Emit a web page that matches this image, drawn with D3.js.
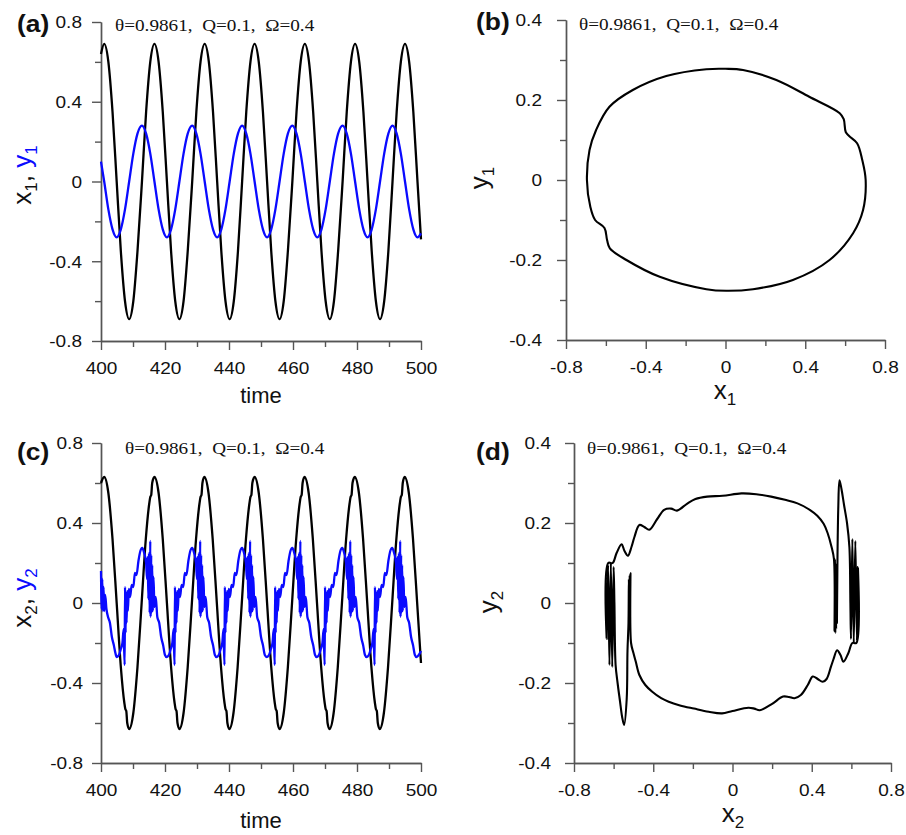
<!DOCTYPE html>
<html>
<head>
<meta charset="utf-8">
<script src="https://cdnjs.cloudflare.com/ajax/libs/d3/7.8.5/d3.min.js"></script>
<style>
  body { margin: 0; background: #fff; }
  svg { display: block; }
  .tick text { font-family: 'Liberation Sans', Arial, sans-serif; font-size: 17px; fill: #111; }
  .domain, .tick line { stroke: #555; stroke-width: 1.4px; }
  .title { font-family: 'Liberation Sans', Arial, sans-serif; fill: #111; }
  .note { font-family: 'Liberation Serif', 'Times New Roman', serif; font-size: 16px; fill: #111; white-space: pre; }
  .letter { font-family: 'Liberation Sans', Arial, sans-serif; font-size: 24px; font-weight: bold; fill: #111; }
</style>
</head>
<body>
<svg id="chart" width="906" height="835"></svg>
<script>
(function() {
  // tick values
  var timeTicks = [400, 420, 440, 460, 480, 500];
  var timeMinor = [410, 430, 450, 470, 490];
  var ampTicks = [-0.8, -0.4, 0, 0.4, 0.8];
  var ampMinor = [-0.6, -0.2, 0.2, 0.6];
  var phaseYTicks = [-0.4, -0.2, 0, 0.2, 0.4];
  var phaseYMinor = [-0.3, -0.1, 0.1, 0.3];

  var noteText = '\u03b8=0.9861,\u00a0 Q=0.1,\u00a0 \u03a9=0.4';

  // (a) x1 and y1 against time
  var timeA = [400.0, 401.0, 402.3, 403.6, 404.9, 406.2, 407.5, 408.8, 410.1, 411.4, 412.8, 414.1, 415.4,
    416.7, 418.0, 419.3, 420.6, 421.9, 423.2, 424.5, 425.8, 427.1, 428.5, 429.8, 431.1,
    432.4, 433.7, 435.0, 436.3, 437.6, 438.9, 440.2, 441.5, 442.8, 444.1, 445.4, 446.7,
    448.0, 449.3, 450.6, 451.9, 453.2, 454.5, 455.8, 457.1, 458.4, 459.8, 461.1, 462.4,
    463.7, 465.0, 466.3, 467.6, 468.9, 470.2, 471.5, 472.8, 474.1, 475.5, 476.8, 478.1,
    479.4, 480.7, 482.0, 483.3, 484.6, 485.9, 487.2, 488.5, 489.8, 491.1, 492.4, 493.7,
    495.0, 496.3, 497.6, 498.9, 500.0];
  var x1Values = [0.64, 0.69, 0.60, 0.35, 0, -0.35, -0.60, -0.69, -0.60, -0.35, 0, 0.35, 0.60,
    0.69, 0.60, 0.35, 0, -0.35, -0.60, -0.69, -0.60, -0.35, 0, 0.35, 0.60,
    0.69, 0.60, 0.35, 0, -0.35, -0.60, -0.69, -0.60, -0.35, 0, 0.35, 0.60,
    0.69, 0.60, 0.35, 0, -0.35, -0.60, -0.69, -0.60, -0.35, 0, 0.35, 0.60,
    0.69, 0.60, 0.35, 0, -0.35, -0.60, -0.69, -0.60, -0.35, 0, 0.35, 0.60,
    0.69, 0.60, 0.35, 0, -0.35, -0.60, -0.69, -0.60, -0.35, 0, 0.35, 0.60,
    0.69, 0.60, 0.35, 0, -0.29];
  var y1Values = [0.10, 0, -0.14, -0.24, -0.28, -0.24, -0.14, 0, 0.14, 0.24, 0.28, 0.24, 0.14,
    0, -0.14, -0.24, -0.28, -0.24, -0.14, 0, 0.14, 0.24, 0.28, 0.24, 0.14,
    0, -0.14, -0.24, -0.28, -0.24, -0.14, 0, 0.14, 0.24, 0.28, 0.24, 0.14,
    0, -0.14, -0.24, -0.28, -0.24, -0.14, 0, 0.14, 0.24, 0.28, 0.24, 0.14,
    0, -0.14, -0.24, -0.28, -0.24, -0.14, 0, 0.14, 0.24, 0.28, 0.24, 0.14,
    0, -0.14, -0.24, -0.28, -0.24, -0.14, 0, 0.14, 0.24, 0.28, 0.24, 0.14,
    0, -0.14, -0.24, -0.28, -0.26];

  // (b) x1, y1 orbit
  var orbit1 = [[0.0, 0.278], [0.088, 0.275], [0.255, 0.25], [0.42, 0.208], [0.573, 0.167], [0.593, 0.152],
    [0.603, 0.12], [0.62, 0.11], [0.66, 0.092], [0.686, 0.05], [0.703, 0], [0.69, -0.075], [0.64, -0.133],
    [0.522, -0.2], [0.338, -0.25], [0.138, -0.273], [0.004, -0.277], [-0.096, -0.273], [-0.33, -0.242],
    [-0.497, -0.2], [-0.58, -0.171], [-0.594, -0.15], [-0.607, -0.12], [-0.654, -0.1], [-0.678, -0.067],
    [-0.695, 0], [-0.682, 0.075], [-0.649, 0.125], [-0.582, 0.183], [-0.465, 0.225], [-0.297, 0.26], [-0.096, 0.277]];

  // (c) x2 against time
  var x2Points = [[400.0, 0.60],
    [401.0, 0.63], [402.3, 0.55], [403.6, 0.32], [404.9, 0], [406.2, -0.32], [407.3, -0.50], [407.6, -0.53], [407.9, -0.54], [408.2, -0.60], [408.8, -0.63], [410.1, -0.55], [411.4, -0.32], [412.7, 0], [414.0, 0.32], [415.1, 0.50], [415.4, 0.53], [415.7, 0.54], [416.0, 0.60],
    [416.7, 0.63], [418.0, 0.55], [419.3, 0.32], [420.6, 0], [421.9, -0.32], [423.0, -0.50], [423.3, -0.53], [423.6, -0.54], [423.9, -0.60], [424.5, -0.63], [425.8, -0.55], [427.1, -0.32], [428.4, 0], [429.7, 0.32], [430.8, 0.50], [431.1, 0.53], [431.4, 0.54], [431.7, 0.60],
    [432.3, 0.63], [433.6, 0.55], [434.9, 0.32], [436.2, 0], [437.5, -0.32], [438.6, -0.50], [438.9, -0.53], [439.2, -0.54], [439.5, -0.60], [440.1, -0.63], [441.4, -0.55], [442.7, -0.32], [444.0, 0], [445.3, 0.32], [446.4, 0.50], [446.7, 0.53], [447.0, 0.54], [447.3, 0.60],
    [448.0, 0.63], [449.3, 0.55], [450.6, 0.32], [451.9, 0], [453.2, -0.32], [454.3, -0.50], [454.6, -0.53], [454.9, -0.54], [455.2, -0.60], [455.8, -0.63], [457.1, -0.55], [458.4, -0.32], [459.7, 0], [461.0, 0.32], [462.1, 0.50], [462.4, 0.53], [462.7, 0.54], [463.0, 0.60],
    [463.6, 0.63], [464.9, 0.55], [466.2, 0.32], [467.5, 0], [468.8, -0.32], [469.9, -0.50], [470.2, -0.53], [470.5, -0.54], [470.8, -0.60], [471.4, -0.63], [472.7, -0.55], [474.0, -0.32], [475.3, 0], [476.6, 0.32], [477.7, 0.50], [478.0, 0.53], [478.3, 0.54], [478.6, 0.60],
    [479.3, 0.63], [480.6, 0.55], [481.9, 0.32], [483.2, 0], [484.5, -0.32], [485.6, -0.50], [485.9, -0.53], [486.2, -0.54], [486.5, -0.60], [487.1, -0.63], [488.4, -0.55], [489.7, -0.32], [491.0, 0], [492.3, 0.32], [493.4, 0.50], [493.7, 0.53], [494.0, 0.54], [494.3, 0.60],
    [494.9, 0.63], [496.2, 0.55], [497.5, 0.32], [498.8, 0], [500.0, -0.30]];

  // (c) y2 against time, one line per cycle (trough to trough)
  var y2Points = [[400.0, 0.16], [400.2, -0.03], [400.4, 0.12], [400.6, -0.04], [400.8, 0.08], [401.0, -0.04], [401.3, 0.04], [401.7, -0.03], [402.2, -0.07], [402.8, -0.10], [403.4, -0.17], [404.0, -0.21], [404.5, -0.25],
    [404.9, -0.27], [405.6, -0.26], [406.2, -0.23], [406.7, -0.20], [407.1, -0.13], [407.2, -0.21], [407.4, -0.31], [407.5, 0.08], [407.7, -0.15], [407.8, 0.05], [408.0, -0.10], [408.2, 0.06], [408.4, -0.04], [408.7, 0.07], [409.1, 0.03], [409.6, 0.09], [410.1, 0.08], [410.6, 0.15], [411.1, 0.14], [411.7, 0.21], [412.3, 0.26], [412.9, 0.275], [413.5, 0.25], [414.1, 0.20], [414.4, 0.12], [414.6, 0.23], [414.8, 0.02], [415.0, 0.25], [415.2, -0.05], [415.4, 0.31], [415.5, -0.07], [415.7, 0.24], [415.8, -0.05], [416.0, 0.19], [416.2, -0.04], [416.4, 0.13], [416.7, -0.02], [417.1, 0.03], [417.6, -0.07], [418.2, -0.10], [418.8, -0.17], [419.4, -0.21], [420.0, -0.26],
    [420.5, -0.27], [421.2, -0.26], [421.8, -0.23], [422.3, -0.20], [422.7, -0.13], [422.8, -0.21], [423.0, -0.31], [423.1, 0.08], [423.3, -0.15], [423.4, 0.05], [423.6, -0.10], [423.8, 0.06], [424.0, -0.04], [424.3, 0.07], [424.7, 0.03], [425.2, 0.09], [425.7, 0.08], [426.2, 0.15], [426.7, 0.14], [427.3, 0.21], [427.9, 0.26], [428.5, 0.275], [429.1, 0.25], [429.7, 0.20], [430.0, 0.12], [430.2, 0.23], [430.4, 0.02], [430.6, 0.25], [430.8, -0.05], [431.0, 0.31], [431.1, -0.07], [431.3, 0.24], [431.4, -0.05], [431.6, 0.19], [431.8, -0.04], [432.0, 0.13], [432.3, -0.02], [432.7, 0.03], [433.2, -0.07], [433.8, -0.10], [434.4, -0.17], [435.0, -0.21], [435.6, -0.26],
    [436.1, -0.27], [436.8, -0.26], [437.4, -0.23], [437.9, -0.20], [438.3, -0.13], [438.4, -0.21], [438.6, -0.31], [438.7, 0.08], [438.9, -0.15], [439.0, 0.05], [439.2, -0.10], [439.4, 0.06], [439.6, -0.04], [439.9, 0.07], [440.3, 0.03], [440.8, 0.09], [441.3, 0.08], [441.8, 0.15], [442.3, 0.14], [442.9, 0.21], [443.5, 0.26], [444.1, 0.275], [444.7, 0.25], [445.3, 0.20], [445.6, 0.12], [445.8, 0.23], [446.0, 0.02], [446.2, 0.25], [446.4, -0.05], [446.6, 0.31], [446.7, -0.07], [446.9, 0.24], [447.0, -0.05], [447.2, 0.19], [447.4, -0.04], [447.6, 0.13], [447.9, -0.02], [448.3, 0.03], [448.8, -0.07], [449.4, -0.10], [450.0, -0.17], [450.6, -0.21], [451.2, -0.26],
    [451.8, -0.27], [452.5, -0.26], [453.1, -0.23], [453.6, -0.20], [454.0, -0.13], [454.1, -0.21], [454.3, -0.31], [454.4, 0.08], [454.6, -0.15], [454.7, 0.05], [454.9, -0.10], [455.1, 0.06], [455.3, -0.04], [455.6, 0.07], [456.0, 0.03], [456.5, 0.09], [457.0, 0.08], [457.5, 0.15], [458.0, 0.14], [458.6, 0.21], [459.2, 0.26], [459.8, 0.275], [460.4, 0.25], [461.0, 0.20], [461.3, 0.12], [461.5, 0.23], [461.7, 0.02], [461.9, 0.25], [462.1, -0.05], [462.3, 0.31], [462.4, -0.07], [462.6, 0.24], [462.7, -0.05], [462.9, 0.19], [463.1, -0.04], [463.3, 0.13], [463.6, -0.02], [464.0, 0.03], [464.5, -0.07], [465.1, -0.10], [465.7, -0.17], [466.3, -0.21], [466.9, -0.26],
    [467.4, -0.27], [468.1, -0.26], [468.7, -0.23], [469.2, -0.20], [469.6, -0.13], [469.7, -0.21], [469.9, -0.31], [470.0, 0.08], [470.2, -0.15], [470.3, 0.05], [470.5, -0.10], [470.7, 0.06], [470.9, -0.04], [471.2, 0.07], [471.6, 0.03], [472.1, 0.09], [472.6, 0.08], [473.1, 0.15], [473.6, 0.14], [474.2, 0.21], [474.8, 0.26], [475.4, 0.275], [476.0, 0.25], [476.6, 0.20], [476.9, 0.12], [477.1, 0.23], [477.3, 0.02], [477.5, 0.25], [477.7, -0.05], [477.9, 0.31], [478.0, -0.07], [478.2, 0.24], [478.3, -0.05], [478.5, 0.19], [478.7, -0.04], [478.9, 0.13], [479.2, -0.02], [479.6, 0.03], [480.1, -0.07], [480.7, -0.10], [481.3, -0.17], [481.9, -0.21], [482.5, -0.26],
    [483.0, -0.27], [483.7, -0.26], [484.3, -0.23], [484.8, -0.20], [485.2, -0.13], [485.3, -0.21], [485.5, -0.31], [485.6, 0.08], [485.8, -0.15], [485.9, 0.05], [486.1, -0.10], [486.3, 0.06], [486.5, -0.04], [486.8, 0.07], [487.2, 0.03], [487.7, 0.09], [488.2, 0.08], [488.7, 0.15], [489.2, 0.14], [489.8, 0.21], [490.4, 0.26], [491.0, 0.275], [491.6, 0.25], [492.2, 0.20], [492.5, 0.12], [492.7, 0.23], [492.9, 0.02], [493.1, 0.25], [493.3, -0.05], [493.5, 0.31], [493.6, -0.07], [493.8, 0.24], [493.9, -0.05], [494.1, 0.19], [494.3, -0.04], [494.5, 0.13], [494.8, -0.02], [495.2, 0.03], [495.7, -0.07], [496.3, -0.10], [496.9, -0.17], [497.5, -0.21], [498.1, -0.26],
    [498.6, -0.27], [499.3, -0.26], [500.0, -0.24]];

  // (d) x2, y2 orbit, in time order
  var orbit2 = [[-0.605, 0.10], [-0.585, 0.125], [-0.56, 0.147], [-0.545, 0.13], [-0.528, 0.118], [-0.51, 0.14], [-0.495, 0.165],
    [-0.47, 0.195], [-0.445, 0.19], [-0.42, 0.183], [-0.38, 0.21], [-0.345, 0.233], [-0.31, 0.236], [-0.28, 0.231], [-0.23, 0.248],
    [-0.187, 0.26], [-0.128, 0.266], [-0.05, 0.268], [0.045, 0.274], [0.12, 0.272], [0.195, 0.266], [0.265, 0.258], [0.328, 0.249],
    [0.39, 0.233], [0.428, 0.218], [0.46, 0.198], [0.48, 0.175], [0.50, 0.14], [0.512, 0.11],
    [0.515, -0.07], [0.517, 0.11], [0.519, -0.075], [0.521, 0.10], [0.523, -0.065], [0.525, 0.09], [0.527, -0.05],
    [0.53, 0.12], [0.534, 0.24], [0.54, 0.307], [0.55, 0.285], [0.563, 0.245], [0.578, 0.20], [0.59, 0.14], [0.595, 0.0], [0.598, -0.09],
    [0.605, 0.16], [0.612, -0.10], [0.62, 0.155], [0.628, -0.095], [0.633, 0.09], [0.625, -0.10], [0.605, -0.10],
    [0.585, -0.125], [0.56, -0.147], [0.545, -0.13], [0.528, -0.118], [0.51, -0.14], [0.497, -0.159], [0.475, -0.19], [0.455, -0.197],
    [0.43, -0.19], [0.405, -0.184], [0.38, -0.205], [0.345, -0.23], [0.313, -0.238], [0.285, -0.235], [0.255, -0.234], [0.2, -0.252],
    [0.138, -0.268], [0.11, -0.264], [0.08, -0.262], [0.0, -0.27], [-0.053, -0.276], [-0.12, -0.272], [-0.195, -0.264], [-0.265, -0.256],
    [-0.322, -0.247], [-0.36, -0.238], [-0.405, -0.222], [-0.44, -0.205], [-0.47, -0.18], [-0.488, -0.147], [-0.50, -0.125], [-0.512, -0.10],
    [-0.515, 0.075], [-0.517, -0.06], [-0.519, 0.07], [-0.521, -0.05], [-0.523, 0.06], [-0.525, -0.05],
    [-0.53, -0.12], [-0.534, -0.24], [-0.547, -0.305], [-0.557, -0.285], [-0.568, -0.245], [-0.58, -0.20], [-0.59, -0.155], [-0.596, 0.0], [-0.60, 0.09],
    [-0.607, -0.16], [-0.614, 0.10], [-0.621, -0.155], [-0.628, 0.095], [-0.635, -0.09], [-0.627, 0.10]];

  var BLUE = '#0a0aff';
  var svg = d3.select('#chart');

  var panels = [
    {letter: '(a)', left: 101, right: 421, top: 22, bottom: 341, xDomain: [400, 500], yDomain: [-0.8, 0.8],
      xTicks: timeTicks, xMinor: timeMinor, yTicks: ampTicks, yMinor: ampMinor, gap: 19,
      letterPos: [17, 32], notePos: [115, 31]},
    {letter: '(b)', left: 566, right: 885, top: 20, bottom: 340, xDomain: [-0.8, 0.8], yDomain: [-0.4, 0.4],
      xTicks: ampTicks, xMinor: ampMinor, yTicks: phaseYTicks, yMinor: phaseYMinor, gap: 24,
      letterPos: [476, 30], notePos: [579, 30]},
    {letter: '(c)', left: 101, right: 421, top: 443, bottom: 763, xDomain: [400, 500], yDomain: [-0.8, 0.8],
      xTicks: timeTicks, xMinor: timeMinor, yTicks: ampTicks, yMinor: ampMinor, gap: 18,
      letterPos: [17, 460], notePos: [125, 454]},
    {letter: '(d)', left: 574, right: 891, top: 443, bottom: 763, xDomain: [-0.8, 0.8], yDomain: [-0.4, 0.4],
      xTicks: ampTicks, xMinor: ampMinor, yTicks: phaseYTicks, yMinor: phaseYMinor, gap: 23,
      letterPos: [476, 460], notePos: [587, 454]}
  ];

  function fmt(d) {
    return d === 0 ? '0' : String(d);
  }

  function drawAxes(p) {
    var g = svg.append('g');
    p.x = d3.scaleLinear().domain(p.xDomain).range([p.left, p.right]);
    p.y = d3.scaleLinear().domain(p.yDomain).range([p.bottom, p.top]);

    g.append('g').attr('transform', 'translate(0,' + p.bottom + ')')
      .call(d3.axisBottom(p.x).tickValues(p.xMinor).tickSize(6).tickSizeOuter(0).tickFormat(''));
    var gx = g.append('g').attr('transform', 'translate(0,' + p.bottom + ')')
      .call(d3.axisBottom(p.x).tickValues(p.xTicks).tickSize(9).tickSizeOuter(0).tickFormat(fmt));
    gx.selectAll('.tick text').attr('y', null).attr('dy', null)
      .attr('transform', 'translate(0,33) scale(1.12,1)');

    g.append('g').attr('transform', 'translate(' + p.left + ',0)')
      .call(d3.axisLeft(p.y).tickValues(p.yMinor).tickSize(6).tickSizeOuter(0).tickFormat(''));
    var gy = g.append('g').attr('transform', 'translate(' + p.left + ',0)')
      .call(d3.axisLeft(p.y).tickValues(p.yTicks).tickSize(9).tickSizeOuter(0).tickFormat(fmt));
    gy.selectAll('.tick text').attr('x', null).attr('dy', '0.35em')
      .attr('transform', 'translate(' + (-p.gap) + ',0) scale(1.12,1)');

    svg.append('text').attr('class', 'letter')
      .attr('transform', 'translate(' + p.letterPos[0] + ',' + p.letterPos[1] + ') scale(1.1,1)')
      .text(p.letter);
    svg.append('text').attr('class', 'note')
      .attr('transform', 'translate(' + p.notePos[0] + ',' + p.notePos[1] + ') scale(1.2,1)')
      .text(noteText);
  }

  function drawSeries(p, points, color, curve, width) {
    var line = d3.line()
      .x(function(d) { return p.x(d[0]); })
      .y(function(d) { return p.y(d[1]); })
      .curve(curve);
    svg.append('path').datum(points)
      .attr('d', line)
      .attr('fill', 'none')
      .attr('stroke', color)
      .attr('stroke-width', width)
      .attr('stroke-linejoin', 'round');
  }

  function subTitle(tr, parts) {
    var t = svg.append('text').attr('class', 'title')
      .attr('transform', tr)
      .attr('text-anchor', 'middle');
    parts.forEach(function(part) {
      t.append('tspan')
        .attr('font-size', part.sub ? 17 : 26)
        .attr('dy', part.dy || 0)
        .attr('fill', part.color || '#111')
        .text(part.text);
    });
  }

  panels.forEach(drawAxes);

  var pa = panels[0], pb = panels[1], pc = panels[2], pd = panels[3];

  drawSeries(pa, d3.zip(timeA, x1Values), '#000', d3.curveMonotoneX, 2.3);
  drawSeries(pa, d3.zip(timeA, y1Values), BLUE, d3.curveMonotoneX, 2.3);
  drawSeries(pb, orbit1, '#000', d3.curveCatmullRomClosed.alpha(0.5), 2.1);
  drawSeries(pc, x2Points, '#000', d3.curveMonotoneX, 2.3);
  drawSeries(pc, y2Points, BLUE, d3.curveMonotoneX, 2.3);
  drawSeries(pd, orbit2, '#000', d3.curveCatmullRomClosed.alpha(0.5), 2.1);

  // axis titles
  svg.append('text').attr('class', 'title').attr('x', 261).attr('y', 403)
    .attr('text-anchor', 'middle').attr('font-size', 22).text('time');
  svg.append('text').attr('class', 'title').attr('x', 261).attr('y', 828)
    .attr('text-anchor', 'middle').attr('font-size', 22).text('time');
  subTitle('translate(725,399)', [{text: 'x'}, {text: '1', sub: true, dy: 6}]);
  subTitle('translate(733,822)', [{text: 'x'}, {text: '2', sub: true, dy: 6}]);
  subTitle('translate(31,175) rotate(-90)', [{text: 'x'}, {text: '1', sub: true, dy: 6}, {text: ', ', dy: -6},
    {text: 'y', color: BLUE}, {text: '1', sub: true, dy: 6, color: BLUE}]);
  subTitle('translate(31,598) rotate(-90)', [{text: 'x'}, {text: '2', sub: true, dy: 6}, {text: ', ', dy: -6},
    {text: 'y', color: BLUE}, {text: '2', sub: true, dy: 6, color: BLUE}]);
  subTitle('translate(488,178) rotate(-90)', [{text: 'y'}, {text: '1', sub: true, dy: 6}]);
  subTitle('translate(497,602) rotate(-90)', [{text: 'y'}, {text: '2', sub: true, dy: 6}]);
})();
</script>
</body>
</html>
